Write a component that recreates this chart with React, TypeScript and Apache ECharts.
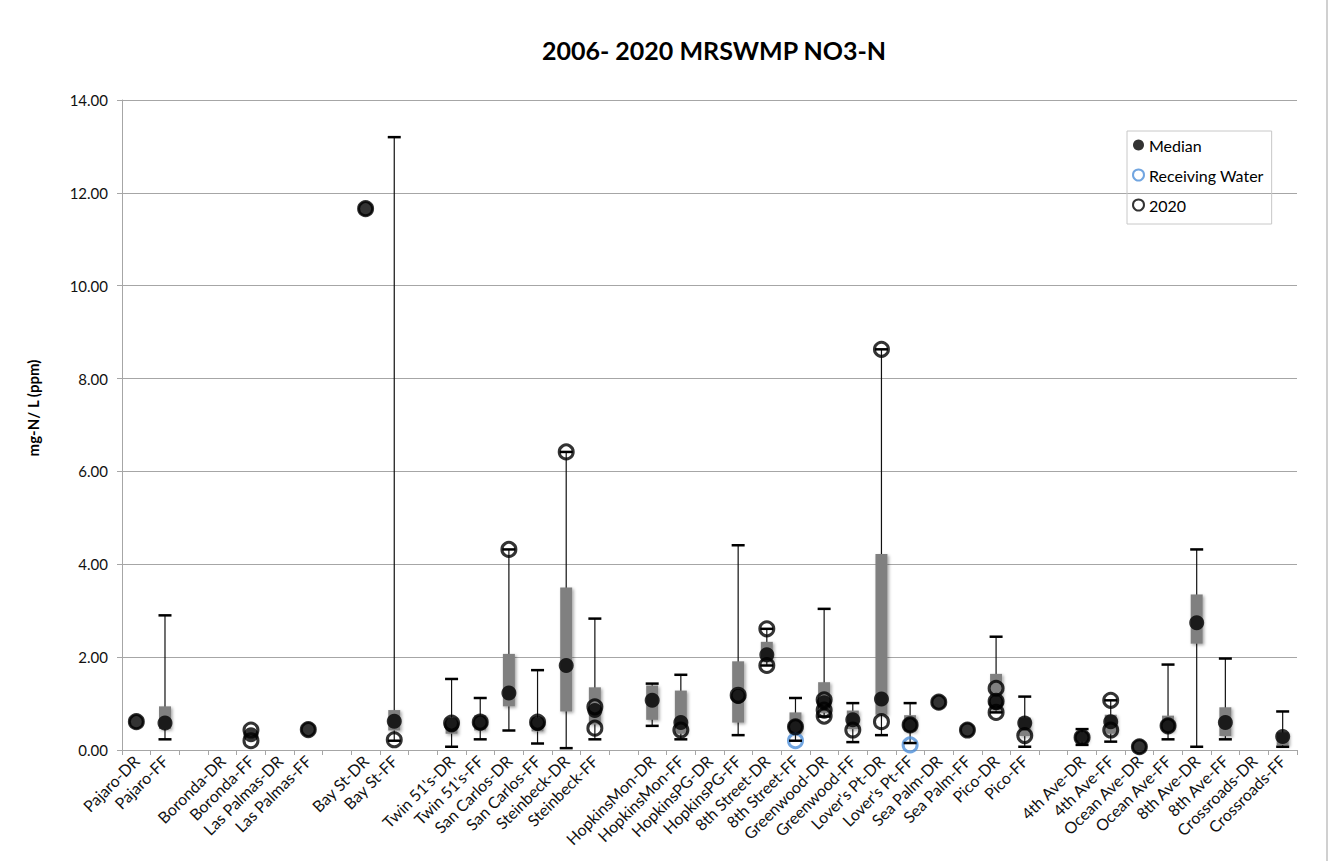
import React, { useEffect, useRef } from 'react';
import * as echarts from 'echarts';

const categories = [
  'Pajaro-DR', 'Pajaro-FF', '', 'Boronda-DR', 'Boronda-FF', 'Las Palmas-DR', 'Las Palmas-FF', '',
  'Bay St-DR', 'Bay St-FF', '', "Twin 51's-DR", "Twin 51's-FF", 'San Carlos-DR', 'San Carlos-FF',
  'Steinbeck-DR', 'Steinbeck-FF', '', 'HopkinsMon-DR', 'HopkinsMon-FF', 'HopkinsPG-DR', 'HopkinsPG-FF',
  '8th Street-DR', '8th Street-FF', 'Greenwood-DR', 'Greenwood-FF', "Lover's Pt-DR", "Lover's Pt-FF",
  'Sea Palm-DR', 'Sea Palm-FF', 'Pico-DR', 'Pico-FF', '', '4th Ave-DR', '4th Ave-FF', 'Ocean Ave-DR',
  'Ocean Ave-FF', '8th Ave-DR', '8th Ave-FF', 'Crossroads-DR', 'Crossroads-FF',
];

const whiskerMin = [null, 0.23, null, null, null, null, null, null, null, 0.20, null, 0.07, 0.23, 0.42, 0.14, 0.04, 0.23, null, 0.52, 0.23, null, 0.32, 1.82, 0.20, 0.72, 0.17, 0.32, 0.15, null, null, 0.81, 0.07, null, 0.11, 0.18, null, 0.23, 0.07, 0.23, null, 0.07];
const boxLow = [null, 0.45, null, null, null, null, null, null, null, 0.42, null, 0.35, 0.42, 0.94, 0.40, 0.83, 0.55, null, 0.65, 0.35, null, 0.59, 1.90, 0.35, 0.80, 0.45, 0.76, 0.40, null, null, 0.85, 0.30, null, 0.18, 0.35, null, 0.40, 2.29, 0.30, null, 0.10];
const boxHigh = [null, 0.94, null, null, null, null, null, null, null, 0.86, null, 0.70, 0.75, 2.07, 0.70, 3.50, 1.35, null, 1.39, 1.28, null, 1.91, 2.33, 0.81, 1.46, 0.85, 4.22, 0.75, null, null, 1.64, 0.70, null, 0.38, 0.76, null, 0.74, 3.35, 0.92, null, 0.38];
const whiskerMax = [null, 2.90, null, null, null, null, null, null, null, 13.20, null, 1.53, 1.12, 4.32, 1.72, 6.42, 2.83, null, 1.43, 1.62, null, 4.41, 2.61, 1.12, 3.04, 1.01, 8.63, 1.01, null, null, 2.44, 1.15, null, 0.45, 1.07, null, 1.84, 4.32, 1.97, null, 0.83];
const medians = [0.61, 0.58, null, null, 0.33, null, 0.44, null, 11.66, 0.62, null, 0.54, 0.58, 1.23, 0.57, 1.82, 0.85, null, 1.07, 0.59, null, 1.15, 2.05, 0.50, 1.02, 0.65, 1.10, 0.54, 1.03, 0.43, 1.02, 0.58, null, 0.27, 0.61, 0.07, 0.52, 2.74, 0.59, null, 0.29];

const sites2020 = [
  'Pajaro-DR', 'Boronda-FF', 'Boronda-FF', 'Las Palmas-FF', 'Bay St-DR', 'Bay St-FF', "Twin 51's-DR", "Twin 51's-FF",
  'San Carlos-DR', 'San Carlos-FF', 'Steinbeck-DR', 'Steinbeck-FF', 'Steinbeck-FF', 'HopkinsMon-FF', 'HopkinsPG-FF',
  '8th Street-DR', '8th Street-DR', '8th Street-FF', 'Greenwood-DR', 'Greenwood-DR', 'Greenwood-DR', 'Greenwood-FF',
  "Lover's Pt-DR", "Lover's Pt-DR", "Lover's Pt-FF", 'Sea Palm-DR', 'Sea Palm-FF', 'Pico-DR', 'Pico-DR', 'Pico-DR',
  'Pico-FF', '4th Ave-DR', '4th Ave-FF', '4th Ave-FF', 'Ocean Ave-DR', 'Ocean Ave-FF',
];
const values2020 = [
  0.61, 0.43, 0.20, 0.44, 11.66, 0.22, 0.58, 0.60,
  4.32, 0.60, 6.42, 0.93, 0.47, 0.43, 1.18,
  2.61, 1.82, 0.50, 1.08, 0.86, 0.73, 0.43,
  8.63, 0.61, 0.54, 1.03, 0.43, 1.33, 1.05, 0.81,
  0.31, 0.27, 1.07, 0.43, 0.07, 0.52,
];

const rwSites = ['8th Street-FF', "Lover's Pt-FF"];
const rwValues = [0.20, 0.11];

const yTicks = [0, 2, 4, 6, 8, 10, 12, 14];

const FONT = 'Lato, "Open Sans", sans-serif';

export default function App() {
  const ref = useRef<HTMLDivElement>(null);

  useEffect(() => {
    if (!ref.current) return;
    const chart = echarts.init(ref.current, undefined, { renderer: 'svg' });

    const boxData: any[] = [];
    categories.forEach((_, i) => {
      if (whiskerMin[i] != null) {
        boxData.push([i, whiskerMin[i], boxLow[i], boxHigh[i], whiskerMax[i]]);
      }
    });
    const medianData: any[] = [];
    medians.forEach((v, i) => {
      if (v != null) medianData.push([i, v]);
    });
    const data2020 = sites2020.map((s, k) => [categories.indexOf(s), values2020[k]]);
    const rwData = rwSites.map((s, k) => [categories.indexOf(s), rwValues[k]]);

    const option: any = {
      animation: false,
      backgroundColor: '#fff',
      title: {
        text: '2006- 2020 MRSWMP NO3-N',
        left: 709,
        top: 32,
        textAlign: 'center',
        textStyle: { fontFamily: FONT, fontSize: 25, fontWeight: 'bold', color: '#000' },
      },
      legend: {
        orient: 'vertical',
        left: 1127,
        top: 131,
        padding: [6, 8, 11, 5],
        itemGap: 14,
        itemWidth: 11,
        itemHeight: 11,
        borderColor: '#c8c8c8',
        borderWidth: 1,
        textStyle: { fontFamily: FONT, fontSize: 16, color: '#000', lineHeight: 16 },
        data: ['Median', 'Receiving Water', '2020'],
      },
      grid: { left: 122, right: 36, top: 100, bottom: 111, containLabel: false },
      xAxis: {
        type: 'category',
        data: categories,
        axisLine: { lineStyle: { color: '#a6a6a6', width: 1 } },
        axisTick: { show: true, length: 5, lineStyle: { color: '#a6a6a6' } },
        axisLabel: {
          interval: 0,
          rotate: 45,
          margin: 8,
          fontFamily: FONT,
          fontSize: 16,
          color: '#111',
        },
        splitLine: { show: false },
      },
      yAxis: {
        type: 'value',
        min: yTicks[0],
        max: yTicks[yTicks.length - 1],
        interval: 2,
        axisLine: { show: true, lineStyle: { color: '#a6a6a6', width: 1 } },
        axisTick: { show: true, length: 5, lineStyle: { color: '#a6a6a6' } },
        axisLabel: {
          formatter: (v: number) => v.toFixed(2),
          fontFamily: FONT,
          fontSize: 15,
          color: '#111',
          margin: 14,
        },
        splitLine: { show: true, lineStyle: { color: '#a6a6a6', width: 1 } },
      },
      graphic: [
        {
          type: 'text',
          x: 33,
          y: 408,
          rotation: Math.PI / 2,
          style: {
            text: 'mg-N/ L (ppm)',
            fontFamily: FONT,
            fontSize: 15,
            fontWeight: 'bold',
            fill: '#000',
            textAlign: 'center',
            textVerticalAlign: 'middle',
          },
        },
        {
          type: 'line',
          shape: { x1: 1327, y1: 0, x2: 1327, y2: 861 },
          style: { stroke: '#c0c0c0', lineWidth: 1.5 },
        },
      ],
      series: [
        {
          name: 'box',
          type: 'custom',
          z: 1,
          encode: { x: 0, y: [1, 2, 3, 4] },
          data: boxData,
          renderItem: (params: any, api: any) => {
            const i = api.value(0);
            const pLo = api.coord([i, api.value(1)]);
            const p1 = api.coord([i, api.value(2)]);
            const p3 = api.coord([i, api.value(3)]);
            const pHi = api.coord([i, api.value(4)]);
            const x = pLo[0];
            return {
              type: 'group',
              children: [
                {
                  type: 'line',
                  shape: { x1: x, y1: pHi[1], x2: x, y2: pLo[1] },
                  style: { stroke: '#111', lineWidth: 1.2 },
                },
                {
                  type: 'rect',
                  shape: { x: x - 6, y: p3[1], width: 12, height: p1[1] - p3[1] },
                  style: {
                    fill: '#808080',
                    shadowBlur: 3,
                    shadowColor: 'rgba(0,0,0,0.35)',
                    shadowOffsetX: 1.5,
                    shadowOffsetY: 1.5,
                  },
                },
              ],
            };
          },
        },
        {
          name: 'Median',
          type: 'scatter',
          z: 3,
          symbol: 'circle',
          symbolSize: 15,
          itemStyle: { color: '#000' },
          data: medianData,
        },
        {
          name: 'Receiving Water',
          type: 'scatter',
          z: 4,
          symbol: 'circle',
          symbolSize: 14,
          itemStyle: { color: 'rgba(255,255,255,0)', borderColor: '#4e8fd8', borderWidth: 3 },
          data: rwData,
        },
        {
          name: '2020',
          type: 'scatter',
          z: 4,
          symbol: 'circle',
          symbolSize: 14,
          itemStyle: { color: 'rgba(255,255,255,0)', borderColor: '#000', borderWidth: 3 },
          data: data2020,
        },
        {
          name: 'caps',
          type: 'custom',
          z: 5,
          encode: { x: 0, y: [1, 4] },
          data: boxData,
          renderItem: (params: any, api: any) => {
            const i = api.value(0);
            const pLo = api.coord([i, api.value(1)]);
            const pHi = api.coord([i, api.value(4)]);
            const x = pLo[0];
            return {
              type: 'group',
              children: [
                {
                  type: 'line',
                  shape: { x1: x - 6.5, y1: pHi[1], x2: x + 6.5, y2: pHi[1] },
                  style: { stroke: '#000', lineWidth: 2.5 },
                },
                {
                  type: 'line',
                  shape: { x1: x - 6.5, y1: pLo[1], x2: x + 6.5, y2: pLo[1] },
                  style: { stroke: '#000', lineWidth: 2.5 },
                },
              ],
            };
          },
        },
      ],
    };

    chart.setOption(option);
    return () => chart.dispose();
  }, []);

  return (
    <div
      ref={ref}
      style={{ position: 'fixed', left: 0, top: 0, width: 1333, height: 861, background: '#fff' }}
    />
  );
}
